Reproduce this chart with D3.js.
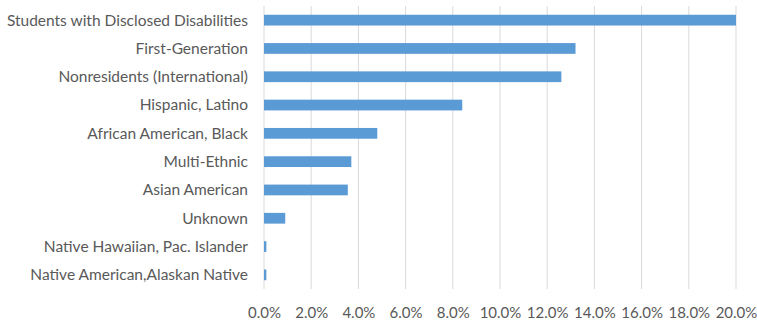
<html>
<head>
<meta charset="UTF-8">
<title>Student groups</title>
<script src="https://d3js.org/d3.v7.min.js"></script>
<style>
  body{ margin:0; background:#fff; }
  svg{ display:block; }
</style>
</head>
<body>
<script type="text/javascript">
var categories = ["Students with Disclosed Disabilities", "First-Generation", "Nonresidents (International)",
  "Hispanic, Latino", "African American, Black", "Multi-Ethnic", "Asian American", "Unknown",
  "Native Hawaiian, Pac. Islander", "Native American,Alaskan Native"];
var values = [20.0, 13.2, 12.6, 8.4, 4.8, 3.7, 3.55, 0.9, 0.1, 0.1];
var tickValues = [0, 2, 4, 6, 8, 10, 12, 14, 16, 18, 20];

var width = 757, height = 325;
var plotLeft = 264, plotRight = 736, plotTop = 6, plotBottom = 289;

var svg = d3.select("body").append("svg")
  .attr("width", width)
  .attr("height", height);

var x = d3.scaleLinear().domain([0, 20]).range([plotLeft, plotRight]);
var y = d3.scaleBand().domain(categories).range([plotTop, plotBottom]).paddingInner(0.62).paddingOuter(0.31);

// gridlines
svg.append("g").selectAll("line")
  .data(tickValues)
  .enter().append("line")
  .attr("x1", function(d){ return x(d); })
  .attr("x2", function(d){ return x(d); })
  .attr("y1", plotTop)
  .attr("y2", plotBottom)
  .attr("stroke", "#d9d9d9")
  .attr("stroke-width", 1);

// bars
svg.append("g").selectAll("rect")
  .data(values)
  .enter().append("rect")
  .attr("x", x(0))
  .attr("y", function(d, i){ return y(categories[i]); })
  .attr("width", function(d){ return x(d) - x(0); })
  .attr("height", y.bandwidth())
  .attr("fill", "#5b9bd5");

// category labels
svg.append("g").selectAll("text")
  .data(categories)
  .enter().append("text")
  .attr("x", 248)
  .attr("y", function(d){ return y(d) + y.bandwidth()/2; })
  .attr("dy", "0.35em")
  .attr("text-anchor", "end")
  .style("font-family", "Lato, sans-serif")
  .style("font-size", "15.5px")
  .attr("fill", "#595959")
  .text(function(d){ return d; });

// x axis labels
var xAxis = d3.axisBottom(x)
  .tickValues(tickValues)
  .tickSize(0)
  .tickPadding(0)
  .tickFormat(function(d){ return d3.format(".1f")(d) + "%"; });

var gx = svg.append("g")
  .attr("transform", "translate(0," + 307 + ")")
  .call(xAxis);
gx.select(".domain").remove();
gx.selectAll("text")
  .style("font-family", "Lato, sans-serif")
  .style("font-size", "15px")
  .attr("fill", "#595959");
</script>
</body>
</html>
